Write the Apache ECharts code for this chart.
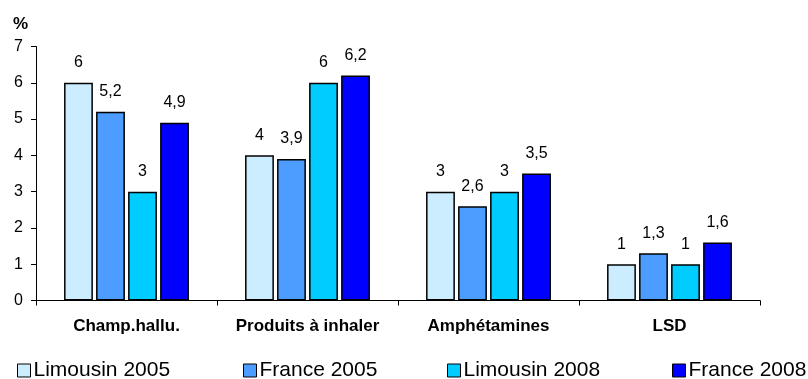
<!DOCTYPE html>
<html><head><meta charset="utf-8">
<script src="https://cdn.jsdelivr.net/npm/echarts@6/dist/echarts.min.js"></script>
<style>html,body{margin:0;padding:0;background:#fff}#c{width:808px;height:379px}</style>
</head><body><div id="c"></div>
<script>
var categories = ["Champ.hallu.", "Produits à inhaler", "Amphétamines", "LSD"];
var seriesNames = ["Limousin 2005", "France 2005", "Limousin 2008", "France 2008"];
var limousin2005 = [6, 4, 3, 1];
var france2005 = [5.2, 3.9, 2.6, 1.3];
var limousin2008 = [3, 6, 3, 1];
var france2008 = [4.9, 6.2, 3.5, 1.6];
var colors = ["#CCECFF", "#4D9CFF", "#00CCFF", "#0000FF"];
var dataSets = [limousin2005, france2005, limousin2008, france2008];
var legendLeft = [12, 238, 442, 667];

var font = "Liberation Sans, Arial, sans-serif";
var chart = echarts.init(document.getElementById('c'));
var series = dataSets.map(function (d, i) {
  return {
    name: seriesNames[i], type: 'bar', data: d,
    barGap: '11%', barCategoryGap: '31%',
    itemStyle: { color: colors[i], borderColor: '#000', borderWidth: 1.5 },
    label: {
      show: true, position: 'top', distance: 12, color: '#000',
      fontFamily: font, fontSize: 16,
      formatter: function (p) { return String(p.value).replace('.', ','); }
    }
  };
});
var legends = seriesNames.map(function (n, i) {
  return {
    data: [n], left: legendLeft[i], top: 355, itemWidth: 13, itemHeight: 13, itemGap: 0,
    icon: 'rect',
    itemStyle: { borderColor: '#000', borderWidth: 1 },
    textStyle: { fontFamily: font, fontSize: 21, color: '#000', padding: [0, 0, 0, -2] }
  };
});
chart.setOption({
  animation: false,
  color: colors,
  textStyle: { fontFamily: font },
  legend: legends,
  grid: { left: 36, right: 48, top: 46.5, bottom: 78.5, containLabel: false },
  title: { text: '%', left: 8, top: 11, textStyle: { fontFamily: font, fontSize: 17, fontWeight: 'bold', color: '#000' } },
  xAxis: {
    type: 'category', data: categories,
    axisLine: { lineStyle: { color: '#000', width: 1 } },
    axisTick: { show: true, length: 5, lineStyle: { color: '#000' } },
    axisLabel: { interval: 0, hideOverlap: false, color: '#000', fontFamily: font, fontSize: 17, fontWeight: 'bold', margin: 17 }
  },
  yAxis: {
    type: 'value', min: 0, max: 7, interval: 1,
    splitLine: { show: false },
    axisLine: { show: true, lineStyle: { color: '#000', width: 1 } },
    axisTick: { show: true, length: 5, lineStyle: { color: '#000' } },
    axisLabel: { color: '#000', fontFamily: font, fontSize: 16, margin: 13 }
  },
  series: series
});
</script>
</body></html>
